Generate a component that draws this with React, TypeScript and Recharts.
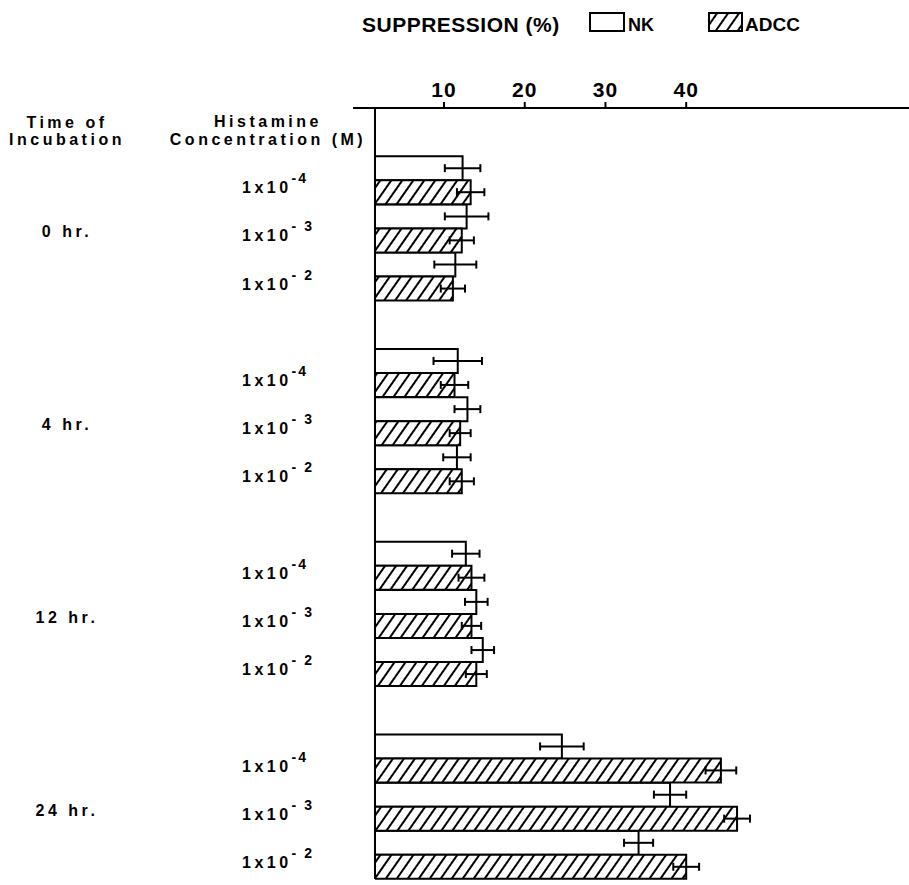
import React from 'react';
import { BarChart, Bar, XAxis, YAxis, ErrorBar } from 'recharts';

// values (suppression %, one entry per time x concentration)
const times = ['0 hr.', '4 hr.', '12 hr.', '24 hr.'];
const concExponents = ['-4', '- 3', '- 2'];
const nkValues = [12.3, 12.8, 11.4, 11.7, 12.9, 11.6, 12.7, 14.0, 14.8, 24.6, 38.0, 34.1];
const nkErrors = [2.2, 2.7, 2.6, 3.0, 1.6, 1.7, 1.7, 1.4, 1.4, 2.7, 2.0, 1.8];
const adccValues = [13.3, 12.2, 11.1, 11.3, 12.0, 12.2, 13.4, 13.4, 14.0, 44.3, 46.3, 40.0];
const adccErrors = [1.7, 1.5, 1.5, 1.7, 1.3, 1.5, 1.6, 1.2, 1.3, 1.9, 1.6, 1.6];
const xTicks = [10, 20, 30, 40];

type Row = {
  key: string;
  time: string;
  conc: string;
  nk: number | null;
  nkErr: number | null;
  adcc: number | null;
  adccErr: number | null;
};

// a blank row before each time group gives the gaps
const rows: Row[] = [];
times.forEach((t, g) => {
  rows.push({ key: `gap${g}`, time: '', conc: '', nk: null, nkErr: null, adcc: null, adccErr: null });
  concExponents.forEach((c, j) => {
    const i = g * 3 + j;
    rows.push({
      key: `r${i}`,
      time: j === 1 ? t : '',
      conc: c,
      nk: nkValues[i],
      nkErr: nkErrors[i],
      adcc: adccValues[i],
      adccErr: adccErrors[i],
    });
  });
});

const font = '"Liberation Sans", Arial, Helvetica, sans-serif';
const labelStyle = { fontFamily: font, fontWeight: 700, fontSize: 16, letterSpacing: 3.5, fill: '#000' };

const RowTick = (props: any) => {
  const { y, index } = props;
  const row = rows[index];
  if (!row || !row.conc) return null;
  return (
    <g>
      <text x={242} y={y + 13} style={labelStyle}>
        1x10
        <tspan dy={-10} fontSize={14} letterSpacing={2}>
          {row.conc}
        </tspan>
      </text>
      {row.time && (
        <text x={67} y={y + 9} textAnchor="middle" style={labelStyle}>
          {row.time}
        </text>
      )}
    </g>
  );
};

const Hatch = ({ id }: { id: string }) => (
  <pattern id={id} width="9" height="9" patternUnits="userSpaceOnUse" patternTransform="rotate(35)">
    <rect width="9" height="9" fill="#fff" />
    <line x1="0" y1="0" x2="0" y2="9" stroke="#000" strokeWidth="4" />
  </pattern>
);

export default function App() {
  return (
    <div style={{ position: 'absolute', left: 0, top: 0, width: 909, height: 885, background: '#fff' }}>
      <BarChart
        width={909}
        height={885}
        data={rows}
        layout="vertical"
        margin={{ top: 68, right: 0, left: 0, bottom: 6 }}
        barCategoryGap={0}
        barGap={0}
      >
        <defs>
          <Hatch id="hatch" />
        </defs>
        <XAxis
          type="number"
          orientation="top"
          height={40}
          domain={[1.45, 67.6]}
          allowDataOverflow
          ticks={xTicks}
          tickSize={6}
          tickMargin={5}
          axisLine={{ stroke: '#000', strokeWidth: 2 }}
          tickLine={{ stroke: '#000', strokeWidth: 2 }}
          tick={{ fill: '#000', fontFamily: font, fontWeight: 700, fontSize: 21, letterSpacing: 1 }}
        />
        <YAxis
          type="category"
          dataKey="key"
          width={375}
          tickLine={false}
          axisLine={{ stroke: '#000', strokeWidth: 2 }}
          tick={<RowTick />}
          interval={0}
        />
        <Bar dataKey="nk" fill="#fff" stroke="#000" strokeWidth={2} isAnimationActive={false}>
          <ErrorBar dataKey="nkErr" direction="x" width={4} stroke="#000" strokeWidth={2} />
        </Bar>
        <Bar dataKey="adcc" fill="url(#hatch)" stroke="#000" strokeWidth={2} isAnimationActive={false}>
          <ErrorBar dataKey="adccErr" direction="x" width={4} stroke="#000" strokeWidth={2} />
        </Bar>
      </BarChart>

      <svg
        width={909}
        height={885}
        style={{ position: 'absolute', left: 0, top: 0, pointerEvents: 'none' }}
      >
        <defs>
          <Hatch id="hatchKey" />
        </defs>
        <line x1={353} y1={108} x2={376} y2={108} stroke="#000" strokeWidth={2} />
        <text x={362} y={32} style={{ fontFamily: font, fontWeight: 700, fontSize: 21, letterSpacing: 0.5, fill: '#000' }}>
          SUPPRESSION (%)
        </text>
        <rect x={590} y={13} width={34} height={18} fill="#fff" stroke="#000" strokeWidth={2} />
        <text x={628} y={31} style={{ fontFamily: font, fontWeight: 700, fontSize: 18, fill: '#000' }}>
          NK
        </text>
        <rect x={709} y={13} width={33} height={18} fill="url(#hatchKey)" stroke="#000" strokeWidth={2} />
        <text x={745} y={31} style={{ fontFamily: font, fontWeight: 700, fontSize: 19, fill: '#000' }}>
          ADCC
        </text>
        <text x={67} y={128} textAnchor="middle" style={labelStyle}>
          Time of
        </text>
        <text x={67} y={145} textAnchor="middle" style={labelStyle}>
          Incubation
        </text>
        <text x={268} y={127} textAnchor="middle" style={labelStyle}>
          Histamine
        </text>
        <text x={268} y={145} textAnchor="middle" style={labelStyle}>
          Concentration (M)
        </text>
      </svg>
    </div>
  );
}
